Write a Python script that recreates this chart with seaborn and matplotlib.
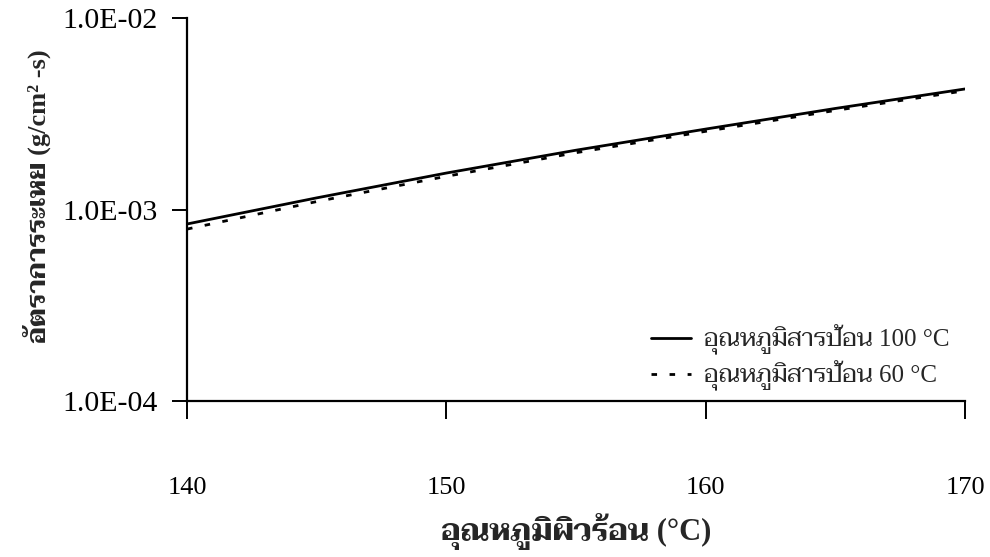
import numpy as np
import pandas as pd
import matplotlib
matplotlib.use("Agg")
import matplotlib.pyplot as plt
from matplotlib.ticker import FixedLocator, FuncFormatter, NullLocator
import seaborn as sns

# ---------------- data ----------------
surface_temp = [140, 145, 150, 155, 160, 165, 170]
rate_feed_100 = [8.4e-4, 1.15e-3, 1.55e-3, 2.04e-3, 2.63e-3, 3.37e-3, 4.26e-3]
rate_feed_60 = [7.9e-4, 1.10e-3, 1.49e-3, 1.98e-3, 2.56e-3, 3.29e-3, 4.17e-3]
series_labels = ["อุณหภูมิสารป้อน 100 °C", "อุณหภูมิสารป้อน 60 °C"]
x_ticks = [140, 150, 160, 170]
y_ticks = [1e-4, 1e-3, 1e-2]
x_label = "อุณหภูมิผิวร้อน (°C)"
y_label = "อัตราการระเหย (g/cm² -s)"

# ---------------- fonts ----------------
sns.set_theme(style="ticks")
plt.rcParams["font.family"] = ["Liberation Serif", "Taviraj", "FreeSerif", "DejaVu Serif"]

# ---------------- figure ----------------
fig = plt.figure(figsize=(9.9, 5.57), dpi=100)
ax = fig.add_axes([187 / 990, 1 - 401 / 557, (965 - 187) / 990, (401 - 18) / 557])

df = pd.DataFrame({"x": surface_temp, "a": rate_feed_100, "b": rate_feed_60})
sns.lineplot(data=df, x="x", y="a", ax=ax, color="black", linewidth=2.0,
             label=series_labels[0])
sns.lineplot(data=df, x="x", y="b", ax=ax, color="black", linewidth=2.0,
             linestyle=(0, (2.0, 4.5)), label=series_labels[1])

ax.set_yscale("log")
ax.set_xlim(140, 170)
ax.set_ylim(1e-4, 1e-2)
ax.xaxis.set_major_locator(FixedLocator(x_ticks))
ax.yaxis.set_major_locator(FixedLocator(y_ticks))
ax.yaxis.set_minor_locator(NullLocator())
ax.yaxis.set_major_formatter(FuncFormatter(lambda v, p: f"{v:.1E}"))
ax.xaxis.set_major_formatter(FuncFormatter(lambda v, p: f"{v:.0f}"))

for s in ["top", "right"]:
    ax.spines[s].set_visible(False)
for s in ["left", "bottom"]:
    ax.spines[s].set_linewidth(1.6)
    ax.spines[s].set_color("black")

ax.tick_params(axis="x", direction="out", length=13, width=1.4, pad=42,
               labelsize=19, colors="black")
ax.tick_params(axis="y", direction="out", length=11, width=1.4, pad=10,
               labelsize=21.5, colors="black")

ax.set_xlabel(x_label, fontsize=22, fontweight="bold", labelpad=10)
ax.set_ylabel(y_label, fontsize=19, fontweight="bold", labelpad=8)
ax.yaxis.label.set_y(0.535)

leg = ax.legend(loc="upper left", bbox_to_anchor=(0.597, 0.20), frameon=False,
                fontsize=18, handlelength=1.6, handletextpad=0.5,
                labelspacing=0.22, borderpad=0, borderaxespad=0)

fig.savefig("out.png", dpi=100, facecolor="white")
